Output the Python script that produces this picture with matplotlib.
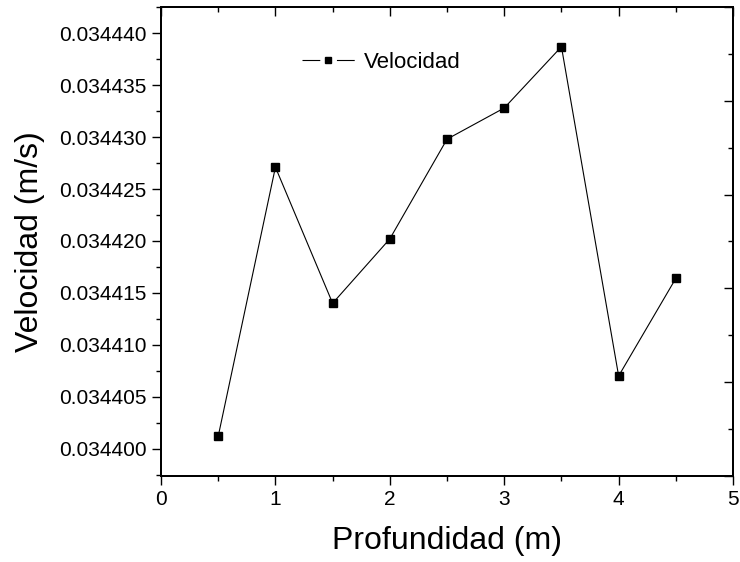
import matplotlib.pyplot as plt
from matplotlib.lines import Line2D
from matplotlib.ticker import MultipleLocator, FormatStrFormatter

plt.rcParams['font.family'] = ['Liberation Sans', 'DejaVu Sans']

profundidad = [0.5, 1.0, 1.5, 2.0, 2.5, 3.0, 3.5, 4.0, 4.5]
velocidad = [0.0344012, 0.0344271, 0.0344140, 0.0344202, 0.0344298,
             0.0344328, 0.0344387, 0.0344070, 0.0344164]

fig = plt.figure(figsize=(7.4, 5.62), dpi=100)
ax = fig.add_axes([0.2176, 0.1536, 0.773, 0.8335])

ax.plot(profundidad, velocidad, color='black', lw=0.8, marker='s',
        markersize=5.8, markerfacecolor='black', markeredgecolor='black')

ax.set_xlim(0, 5)
ax.set_ylim(0.0343974, 0.0344425)
ax.xaxis.set_major_locator(MultipleLocator(1))
ax.xaxis.set_minor_locator(MultipleLocator(0.5))
ax.yaxis.set_major_locator(MultipleLocator(0.000005))
ax.yaxis.set_minor_locator(MultipleLocator(0.0000025))
ax.yaxis.set_major_formatter(FormatStrFormatter('%.6f'))
ax.xaxis.set_major_formatter(FormatStrFormatter('%d'))

ax.tick_params(which='major', direction='out', length=6.5, width=1, labelsize=15, pad=4)
ax.tick_params(which='minor', direction='out', length=3.3, width=1)

for s in ax.spines.values():
    s.set_linewidth(1.2)

ax.set_xlabel('Profundidad (m)', fontsize=23, labelpad=12)
ax.set_ylabel('Velocidad (m/s)', fontsize=23, labelpad=10)

# ejes superior y derecho: ticks hacia dentro, sin etiquetas
ax_top = ax.twiny()
ax_top.set_xlim(0, 5)
ax_top.xaxis.set_major_locator(MultipleLocator(1))
ax_top.xaxis.set_minor_locator(MultipleLocator(0.5))
ax_top.tick_params(which='major', direction='in', length=6.5, width=1, labeltop=False)
ax_top.tick_params(which='minor', direction='in', length=3.3, width=1)

ax_right = ax.twinx()
ax_right.set_ylim(0, 10)
ax_right.yaxis.set_major_locator(MultipleLocator(2))
ax_right.yaxis.set_minor_locator(MultipleLocator(1))
ax_right.tick_params(which='major', direction='in', length=6.5, width=1, labelright=False)
ax_right.tick_params(which='minor', direction='in', length=3.3, width=1)

for a in (ax_top, ax_right):
    for s in a.spines.values():
        s.set_linewidth(1.2)

# leyenda estilo Origin: linea - marcador - linea
handle = Line2D([], [], color='black', lw=0.8, linestyle=(0, (16, 15)),
                marker='s', markersize=4.5, markerfacecolor='black',
                markeredgecolor='black')
ax_right.legend([handle], ['Velocidad'], loc='center left',
                bbox_to_anchor=(0.2465, 0.883), frameon=False,
                fontsize=16, handlelength=2.375, handletextpad=0.4,
                borderpad=0, borderaxespad=0)

fig.savefig('out.png', dpi=100)
